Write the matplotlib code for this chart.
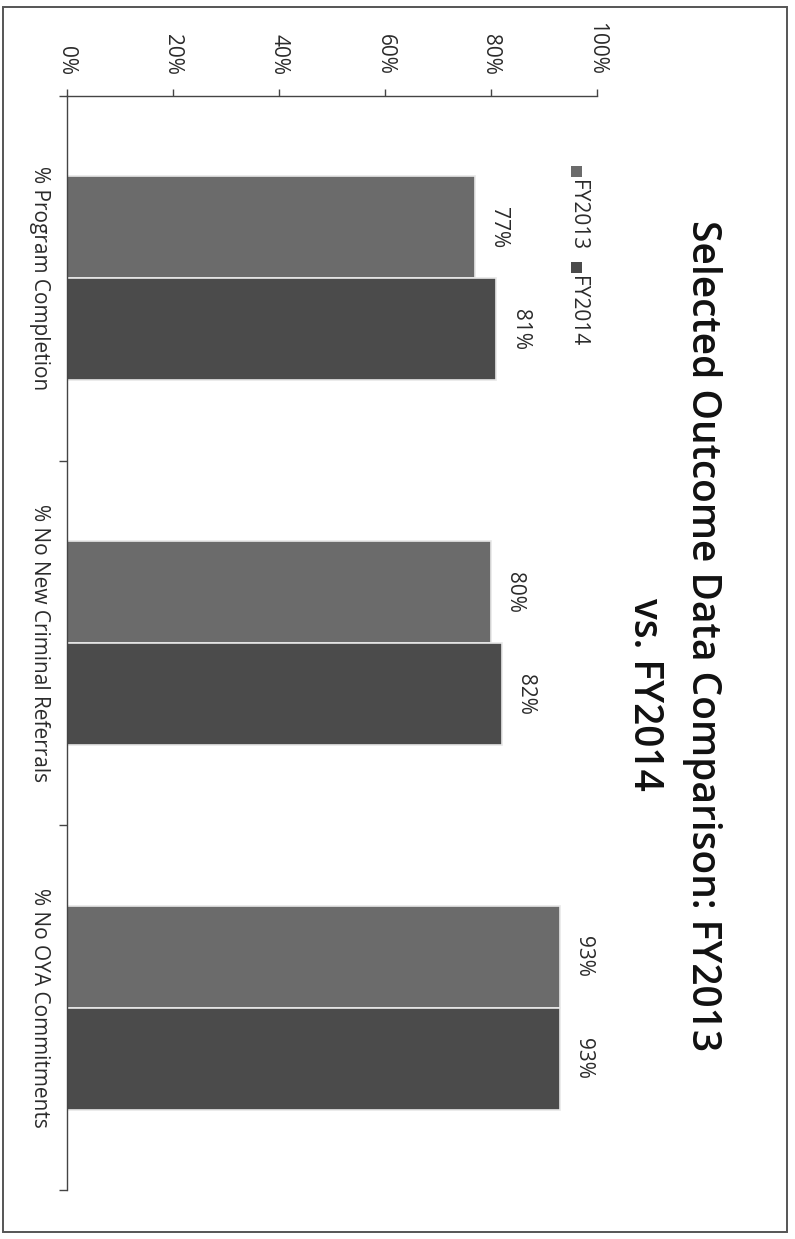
import numpy as np
import matplotlib
matplotlib.use("Agg")
import matplotlib.pyplot as plt
from matplotlib.patches import Rectangle

plt.rcParams["font.family"] = ["Open Sans", "DejaVu Sans"]

# ---------------------------------------------------------------------------
# Data
# ---------------------------------------------------------------------------

categories = ["% Program Completion", "% No New Criminal Referrals", "% No OYA Commitments"]
series_names = ["FY2013", "FY2014"]
fy2013 = [0.77, 0.80, 0.93]
fy2014 = [0.81, 0.82, 0.93]
value_ticks = [0.0, 0.2, 0.4, 0.6, 0.8, 1.0]
value_tick_labels = ["0%", "20%", "40%", "60%", "80%", "100%"]
title_lines = ["Selected Outcome Data Comparison: FY2013", "vs. FY2014"]

COLORS = ["#6b6b6b", "#4b4b4b"]
TEXT = "#2b2b2b"

W, H = 795, 1239


def fx(x):
    return x / W


def fy(y):
    return 1 - y / H


# ---------------------------------------------------------------------------
# Figure (chart laid out on its side, text reading top-to-bottom)
# ---------------------------------------------------------------------------

fig = plt.figure(figsize=(W / 100, H / 100), dpi=100)
fig.patch.set_facecolor("white")

# outer chart frame
fig.patches.append(Rectangle((fx(3), fy(1232)), fx(787) - fx(3), fy(7) - fy(1232),
                             transform=fig.transFigure, fill=False,
                             edgecolor="#555555", linewidth=1.4))

left, right, top, bottom = 67, 597, 96, 1190
ax = fig.add_axes([fx(left), fy(bottom), fx(right) - fx(left), fy(top) - fy(bottom)])

pos = np.arange(len(categories))
bar_h = 0.28
for i, (vals, color, name) in enumerate(zip([fy2013, fy2014], COLORS, series_names)):
    offs = pos + (i - 0.5) * bar_h
    ax.barh(offs, vals, height=bar_h, color=color, edgecolor="#e8e8e8",
            linewidth=1.2, label=name)
    for y, v in zip(offs, vals):
        ax.text(v + 0.025, y, f"{v * 100:.0f}%", rotation=-90, ha="left",
                va="center", fontsize=15, color=TEXT)

ax.set_xlim(0, 1)
ax.set_ylim(len(categories) - 0.5, -0.5)

# value axis along the top
ax.xaxis.tick_top()
ax.set_xticks(value_ticks)
ax.set_xticklabels(value_tick_labels, rotation=-90, fontsize=15, color=TEXT)
ax.tick_params(axis="x", direction="out", length=5, width=1, pad=10, color="#444444")

# category axis: boundary ticks only, labels drawn separately
ax.set_yticks(np.arange(-0.5, len(categories), 1.0))
ax.set_yticklabels([])
ax.tick_params(axis="y", direction="out", length=6, width=1, color="#444444")
for y, cat in zip(pos, categories):
    ax.text(-0.051, y, cat, transform=ax.get_yaxis_transform(), rotation=-90,
            ha="center", va="center", fontsize=15, color=TEXT)

for side in ["right", "bottom"]:
    ax.spines[side].set_visible(False)
for side in ["top", "left"]:
    ax.spines[side].set_color("#444444")
    ax.spines[side].set_linewidth(1)
ax.set_facecolor("none")

# legend, stacked down the page
leg_x = 577
leg_y = 166
for name, color in zip(series_names, COLORS):
    fig.patches.append(Rectangle((fx(leg_x - 6), fy(leg_y + 11)), fx(11), fy(0) - fy(11),
                                 transform=fig.transFigure, facecolor=color,
                                 edgecolor="none"))
    fig.text(fx(leg_x), fy(leg_y + 14), name, rotation=-90, ha="center",
             va="top", fontsize=15, color=TEXT)
    leg_y += 96

# title, two lines
fig.text(fx(702), fy(636), title_lines[0], rotation=-90, ha="center", va="center",
         fontsize=28, fontweight="semibold", color="#111111")
fig.text(fx(644), fy(694), title_lines[1], rotation=-90, ha="center", va="center",
         fontsize=28, fontweight="semibold", color="#111111")

fig.savefig("out.png", dpi=100)
